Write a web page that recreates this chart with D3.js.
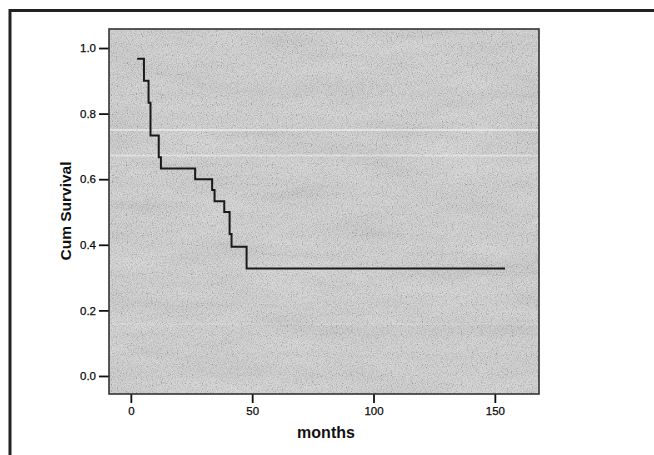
<!DOCTYPE html>
<html>
<head>
<meta charset="utf-8">
<script src="https://cdn.jsdelivr.net/npm/d3@7"></script>
<style>
html,body{margin:0;padding:0;background:#fff;}
svg{display:block;}
text{font-family:Arial,"Liberation Sans",Helvetica,sans-serif;fill:#111;}
</style>
</head>
<body>
<script>
// Data (months vs cumulative survival)
const months   = [2.6, 5.4, 7.3, 8.1, 11.5, 12.4, 26.5, 33.5, 34.5, 38.5, 40.7, 41.5, 47.7, 154.2];
const survival = [0.967, 0.9, 0.833, 0.733, 0.667, 0.633, 0.6, 0.567, 0.533, 0.5, 0.433, 0.394, 0.328, 0.328];
const xTicks = [0, 50, 100, 150];
const yTicks = [0.0, 0.2, 0.4, 0.6, 0.8, 1.0];
const xLabel = "months";
const yLabel = "Cum Survival";

const W = 654, H = 455;
const plot = {left:109, right:539, top:29, bottom:394};

const svg = d3.select("body").append("svg").attr("width", W).attr("height", H);

const defs = svg.append("defs");
const f = defs.append("filter").attr("id","grain").attr("x",0).attr("y",0).attr("width","100%").attr("height","100%");
f.append("feTurbulence").attr("type","fractalNoise").attr("baseFrequency","1.2 0.9").attr("numOctaves",1).attr("seed",3).attr("result","n");
f.append("feColorMatrix").attr("in","n").attr("type","matrix")
  .attr("values","1 0 0 0 0  1 0 0 0 0  1 0 0 0 0  0 0 0 0 1").attr("result","g");
const ct = f.append("feComponentTransfer").attr("in","g");
["feFuncR","feFuncG","feFuncB"].forEach(fn=>ct.append(fn).attr("type","linear").attr("slope",2.5).attr("intercept",-0.6));
const f2 = defs.append("filter").attr("id","mottle").attr("x",0).attr("y",0).attr("width","100%").attr("height","100%");
f2.append("feTurbulence").attr("type","fractalNoise").attr("baseFrequency","0.012 0.05").attr("numOctaves",2).attr("seed",7).attr("result","n");
f2.append("feColorMatrix").attr("in","n").attr("type","matrix")
  .attr("values","1 0 0 0 0  1 0 0 0 0  1 0 0 0 0  0 0 0 0 1");

const x = d3.scaleLinear().domain([-9, 168.2]).range([plot.left, plot.right]);
const y = d3.scaleLinear().domain([-0.055, 1.058]).range([plot.bottom, plot.top]);

// outer frame (scan border)
svg.append("line").attr("x1",9).attr("x2",W).attr("y1",10.5).attr("y2",10.5).attr("stroke","#222").attr("stroke-width",3);
svg.append("line").attr("x1",10).attr("x2",10).attr("y1",9).attr("y2",H).attr("stroke","#222").attr("stroke-width",3);

// plot background
const pw = plot.right-plot.left, ph = plot.bottom-plot.top;
svg.append("rect").attr("x",plot.left).attr("y",plot.top).attr("width",pw).attr("height",ph).attr("fill","#cdcdcd");
svg.append("rect").attr("x",plot.left).attr("y",plot.top).attr("width",pw).attr("height",ph).attr("filter","url(#mottle)").attr("opacity",0.14);
svg.append("rect").attr("x",plot.left).attr("y",plot.top).attr("width",pw).attr("height",ph).attr("filter","url(#grain)").attr("opacity",0.22);
// light streaks of the scan
[[130,2,0.45],[155.5,2,0.4],[324,2,0.12]].forEach(([yy,h,o])=>{
  svg.append("rect").attr("x",plot.left+1).attr("y",yy-h/2).attr("width",pw-2).attr("height",h).attr("fill","#fff").attr("opacity",o);
});

// axes
const yAxis = d3.axisLeft(y).tickValues(yTicks).tickFormat(d3.format(".1f")).tickSize(10).tickPadding(3);
const gy = svg.append("g").attr("transform",`translate(${plot.left},0)`).call(yAxis);
gy.select(".domain").remove();
const xAxis = d3.axisBottom(x).tickValues(xTicks).tickFormat(d3.format("d")).tickSize(9).tickPadding(4);
const gx = svg.append("g").attr("transform",`translate(0,${plot.bottom})`).call(xAxis);
gx.select(".domain").remove();
svg.selectAll(".tick line").attr("stroke","#111").attr("stroke-width",1.8);
svg.selectAll(".tick text").attr("font-size",11.5).attr("fill","#000")
  .style("font-family","Arial, 'Liberation Sans', sans-serif").style("stroke","#000").style("stroke-width",0.25);

// plot frame
svg.append("rect").attr("x",plot.left).attr("y",plot.top).attr("width",pw).attr("height",ph)
  .attr("fill","none").attr("stroke","#333").attr("stroke-width",1.6);

// survival curve
const pts = months.map((m,i)=>[m, survival[i]]);
const line = d3.line().x(d=>x(d[0])).y(d=>y(d[1])).curve(d3.curveStepAfter);
svg.append("path").attr("d",line(pts)).attr("fill","none").attr("stroke","#1a1a1a").attr("stroke-width",2);

// axis titles
svg.append("text").attr("x",326).attr("y",438).attr("text-anchor","middle")
  .attr("font-size",16).attr("font-weight","bold").attr("fill","#000").text(xLabel);
svg.append("text").attr("transform","translate(71,211) rotate(-90)").attr("text-anchor","middle")
  .attr("font-size",15.5).attr("font-weight","bold").attr("fill","#000").text(yLabel);
</script>
</body>
</html>
